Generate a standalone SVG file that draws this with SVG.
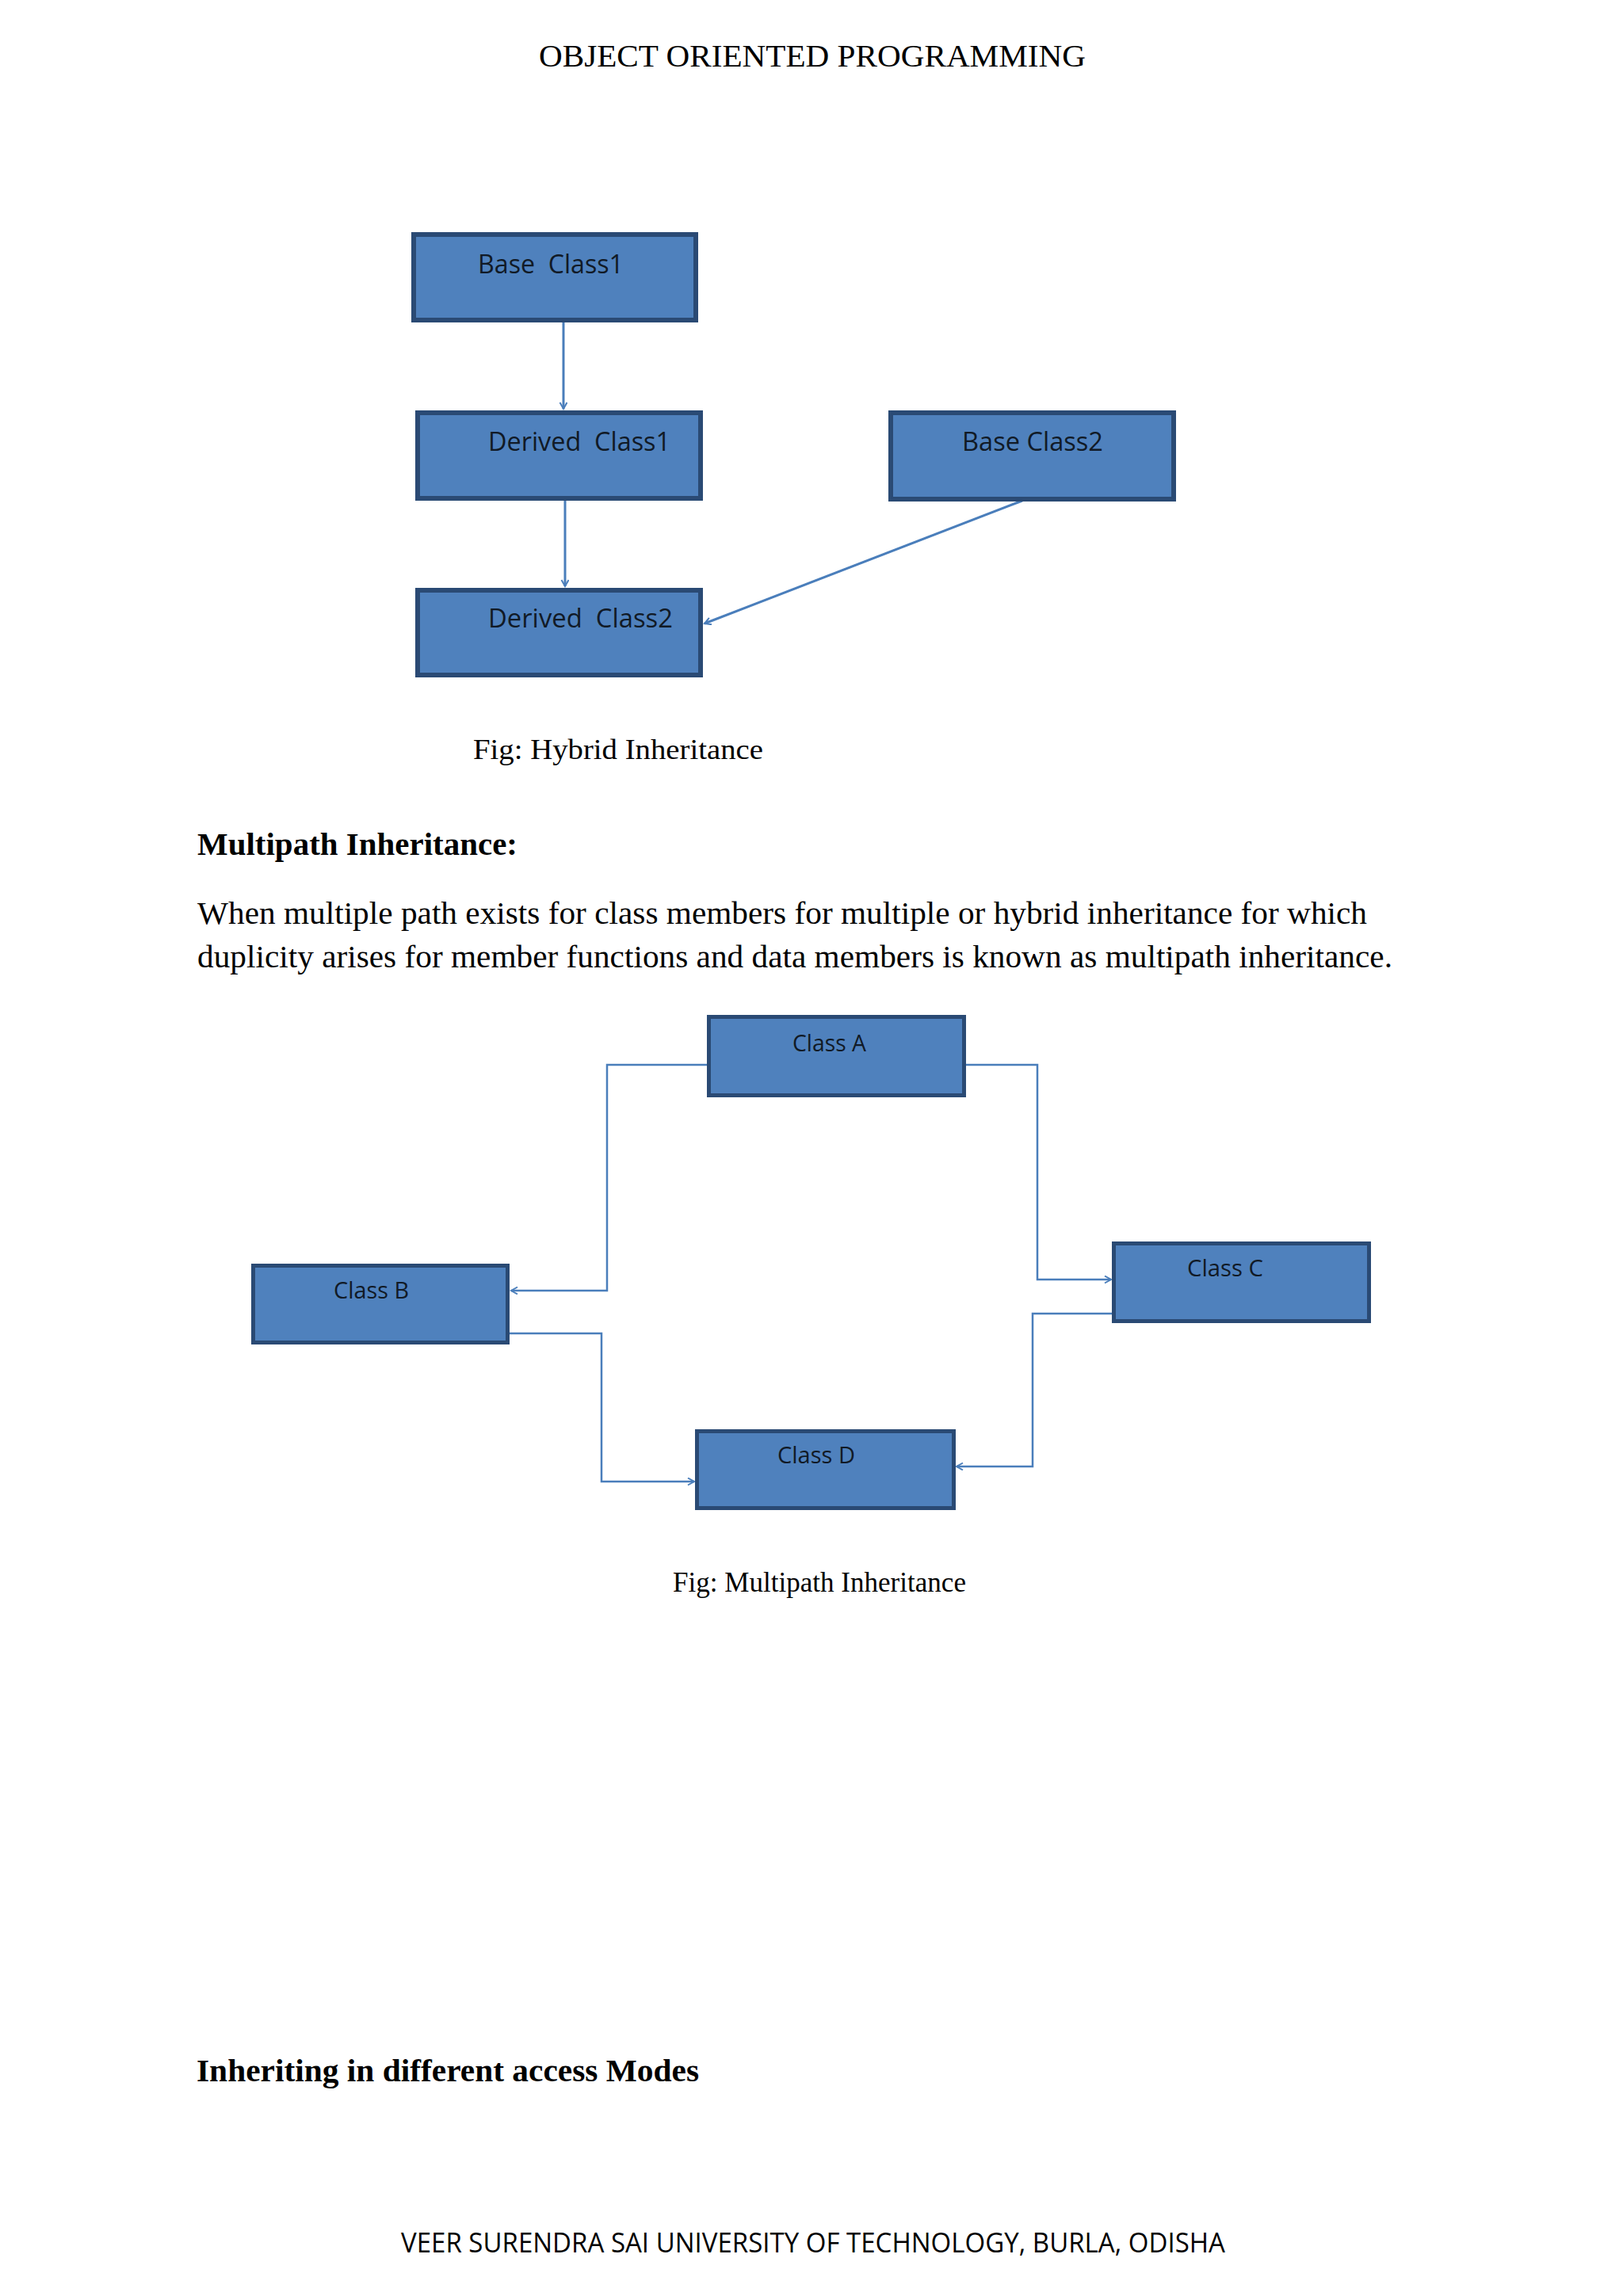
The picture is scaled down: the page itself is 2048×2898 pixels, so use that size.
<svg xmlns="http://www.w3.org/2000/svg" width="2048" height="2898" viewBox="0 0 2048 2898">
<style>
.box{fill:#4f81bd;stroke:#2a4a74;stroke-width:6}
.box2{fill:#4f81bd;stroke:#2a4a74;stroke-width:5}
.lbl{font-family:"Open Sans","Liberation Sans",sans-serif;font-size:32px;fill:#111a26;white-space:pre}
.lbl2{font-family:"Open Sans","Liberation Sans",sans-serif;font-size:29px;fill:#111a26}
.serif{font-family:"Liberation Serif","Times New Roman",serif;fill:#000}
.con{fill:none;stroke:#4a7ebb;stroke-width:3}
.con2{fill:none;stroke:#4a7ebb;stroke-width:2.5}
.foot{font-family:"Open Sans","Liberation Sans",sans-serif;font-size:34px;fill:#000}
</style>
<defs>
<marker id="arr" markerWidth="12" markerHeight="12" refX="9" refY="5" orient="auto" markerUnits="userSpaceOnUse">
<path d="M1,0.5 L9,5 L1,9.5" fill="none" stroke="#4a7ebb" stroke-width="2"/>
</marker>
</defs>
<rect width="2048" height="2898" fill="#ffffff"/>
<text class="serif" x="680" y="84" font-size="39" textLength="690" lengthAdjust="spacingAndGlyphs">OBJECT ORIENTED PROGRAMMING</text>

<g id="connectors">
<path class="con" d="M711,407 V516" marker-end="url(#arr)"/>
<path class="con" d="M713,632 V740" marker-end="url(#arr)"/>
<path class="con" d="M1290,632 L889,787" marker-end="url(#arr)"/>
<path class="con2" d="M892,1344 H766 V1629 H645" marker-end="url(#arr)"/>
<path class="con2" d="M1219,1344 H1309 V1615 H1402" marker-end="url(#arr)"/>
<path class="con2" d="M643,1683 H759 V1870 H876" marker-end="url(#arr)"/>
<path class="con2" d="M1403,1658 H1303 V1851 H1207" marker-end="url(#arr)"/>
</g>

<g id="base-class1">
<rect class="box" x="522" y="296" width="356" height="108"/>
<text class="lbl" xml:space="preserve" x="603" y="345" textLength="184" lengthAdjust="spacingAndGlyphs">Base  Class1</text>
</g>
<g id="derived-class1">
<rect class="box" x="527" y="521" width="357" height="108"/>
<text class="lbl" xml:space="preserve" x="616" y="569" textLength="230" lengthAdjust="spacingAndGlyphs">Derived  Class1</text>
</g>
<g id="base-class2">
<rect class="box" x="1124" y="521" width="357" height="109"/>
<text class="lbl" x="1214" y="569" textLength="178" lengthAdjust="spacingAndGlyphs">Base Class2</text>
</g>
<g id="derived-class2">
<rect class="box" x="527" y="745" width="357" height="107"/>
<text class="lbl" xml:space="preserve" x="616" y="792" textLength="233" lengthAdjust="spacingAndGlyphs">Derived  Class2</text>
</g>

<text class="serif" x="597" y="958" font-size="36" textLength="366" lengthAdjust="spacingAndGlyphs">Fig: Hybrid Inheritance</text>

<text class="serif" x="249" y="1079" font-size="41" font-weight="bold" textLength="404" lengthAdjust="spacingAndGlyphs">Multipath Inheritance:</text>
<text class="serif" x="249" y="1166" font-size="41" textLength="1476" lengthAdjust="spacingAndGlyphs">When multiple path exists for class members for multiple or hybrid inheritance for which</text>
<text class="serif" x="249" y="1221" font-size="41" textLength="1508" lengthAdjust="spacingAndGlyphs">duplicity arises for member functions and data members is known as multipath inheritance.</text>

<g id="class-a">
<rect class="box2" x="894.5" y="1283.5" width="322" height="99"/>
<text class="lbl2" x="1000" y="1327" textLength="93" lengthAdjust="spacingAndGlyphs">Class A</text>
</g>
<g id="class-b">
<rect class="box2" x="319.5" y="1597.5" width="321" height="97"/>
<text class="lbl2" x="421" y="1639" textLength="95" lengthAdjust="spacingAndGlyphs">Class B</text>
</g>
<g id="class-c">
<rect class="box2" x="1405.5" y="1569.5" width="322" height="98"/>
<text class="lbl2" x="1498" y="1611" textLength="96" lengthAdjust="spacingAndGlyphs">Class C</text>
</g>
<g id="class-d">
<rect class="box2" x="879.5" y="1806.5" width="324" height="97"/>
<text class="lbl2" x="981" y="1847" textLength="98" lengthAdjust="spacingAndGlyphs">Class D</text>
</g>

<text class="serif" x="849" y="2009" font-size="36" textLength="370" lengthAdjust="spacingAndGlyphs">Fig: Multipath Inheritance</text>

<text class="serif" x="248" y="2627" font-size="41" font-weight="bold" textLength="634" lengthAdjust="spacingAndGlyphs">Inheriting in different access Modes</text>

<text class="foot" x="506" y="2843" textLength="1040" lengthAdjust="spacingAndGlyphs">VEER SURENDRA SAI UNIVERSITY OF TECHNOLOGY, BURLA, ODISHA</text>
</svg>
